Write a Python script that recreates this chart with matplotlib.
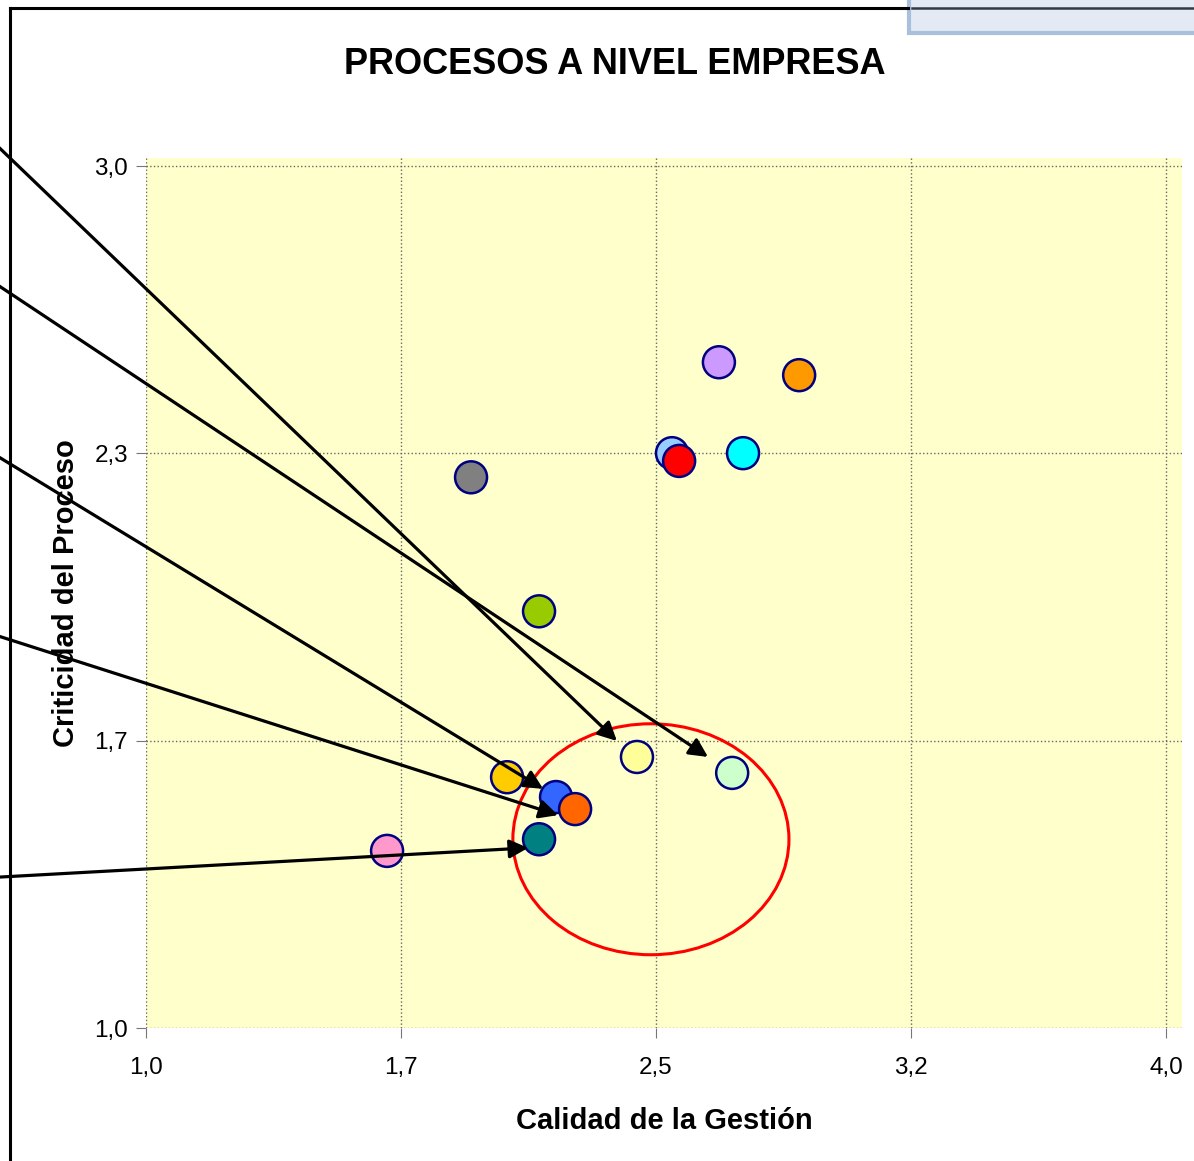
import matplotlib.pyplot as plt
from matplotlib.patches import Ellipse, Rectangle
from matplotlib.lines import Line2D

plt.rcParams['font.family'] = ['Liberation Sans', 'DejaVu Sans']

# Procesos: calidad de la gestion (x), criticidad (y), color
calidad = [2.685, 2.921, 2.547, 2.568, 2.756, 1.956, 2.156, 2.444, 2.724,
           2.062, 2.206, 2.262, 2.156, 1.709]
criticidad = [2.545, 2.515, 2.334, 2.316, 2.334, 2.278, 1.967, 1.629, 1.592,
              1.582, 1.536, 1.508, 1.438, 1.411]
colores = ['#CC99FF', '#FF9900', '#99CCFF', '#FF0000', '#00FFFF', '#808080',
           '#99CC00', '#FFFF99', '#CCFFCC', '#FFCC00', '#3366FF', '#FF6600',
           '#008080', '#FF99CC']

# flechas: punta (datos) y origen (fraccion de figura, borde izquierdo)
punta_x = [2.385, 2.653, 2.168, 2.212, 2.124]
punta_y = [1.666, 1.629, 1.555, 1.494, 1.418]
origen_y = [0.882, 0.760, 0.612, 0.455, 0.244]

# zona destacada
elipse_centro = (2.485, 1.438)
elipse_ancho, elipse_alto = 0.812, 0.536

xticks = [1.0, 1.75, 2.5, 3.25, 4.0]
xlabels = ['1,0', '1,7', '2,5', '3,2', '4,0']
yticks = [1.0, 5 / 3, 7 / 3, 3.0]
ylabels = ['1,0', '1,7', '2,3', '3,0']

fig = plt.figure(figsize=(11.94, 11.61), dpi=100)
ax = fig.add_axes([146 / 1194, 1 - 1028 / 1161, 1036 / 1194, 870 / 1161])
ax.set_facecolor('#FFFFCC')
ax.set_xlim(1.0, 4.047)
ax.set_ylim(1.0, 3.019)

for s in ax.spines.values():
    s.set_visible(False)
ax.set_xticks(xticks)
ax.set_xticklabels(xlabels)
ax.set_yticks(yticks)
ax.set_yticklabels(ylabels)
ax.tick_params(labelsize=17.5, length=7, width=0.8, color='#777777')
ax.tick_params(axis='y', pad=6)
ax.tick_params(axis='x', pad=14)
ax.grid(True, linestyle=':', color='#666666', linewidth=1)
ax.set_axisbelow(True)

ax.scatter(calidad, criticidad, s=530, c=colores, edgecolors='#000080',
           linewidths=1.8, zorder=3)

ax.add_patch(Ellipse(elipse_centro, elipse_ancho, elipse_alto, fill=False,
                     edgecolor='#FF0000', linewidth=2.2, zorder=4))

for px, py, oy in zip(punta_x, punta_y, origen_y):
    ax.annotate('', xy=(px, py), xycoords='data',
                xytext=(-0.01, oy), textcoords='figure fraction',
                arrowprops=dict(arrowstyle='-|>', color='black', lw=2.3,
                                mutation_scale=28, shrinkA=0, shrinkB=0),
                annotation_clip=False, zorder=5)

ax.set_xlabel('Calidad de la Gestión', fontsize=21, fontweight='bold', labelpad=20)
ax.set_ylabel('Criticidad del Proceso', fontsize=21, fontweight='bold', labelpad=10)
fig.text(615 / 1194, 1 - 65 / 1161, 'PROCESOS A NIVEL EMPRESA', fontsize=26,
         fontweight='bold', ha='center', va='center')

# marco del grafico y recuadro superior derecho
fig.add_artist(Line2D([10 / 1194, 10 / 1194], [0, 1 - 8 / 1161],
                      transform=fig.transFigure, color='black', lw=2.2))
fig.add_artist(Line2D([10 / 1194, 908 / 1194], [1 - 8 / 1161, 1 - 8 / 1161],
                      transform=fig.transFigure, color='black', lw=2.2))
fig.add_artist(Rectangle((909 / 1194, 1 - 33 / 1161), 290 / 1194, 40 / 1161,
                         transform=fig.transFigure, facecolor='#E3EAF3',
                         edgecolor='#A8C0DC', lw=3))
fig.add_artist(Line2D([912 / 1194, 1], [1 - 8 / 1161, 1 - 8 / 1161],
                      transform=fig.transFigure, color='#333A44', lw=1.8))

fig.savefig('out.png', dpi=100)
